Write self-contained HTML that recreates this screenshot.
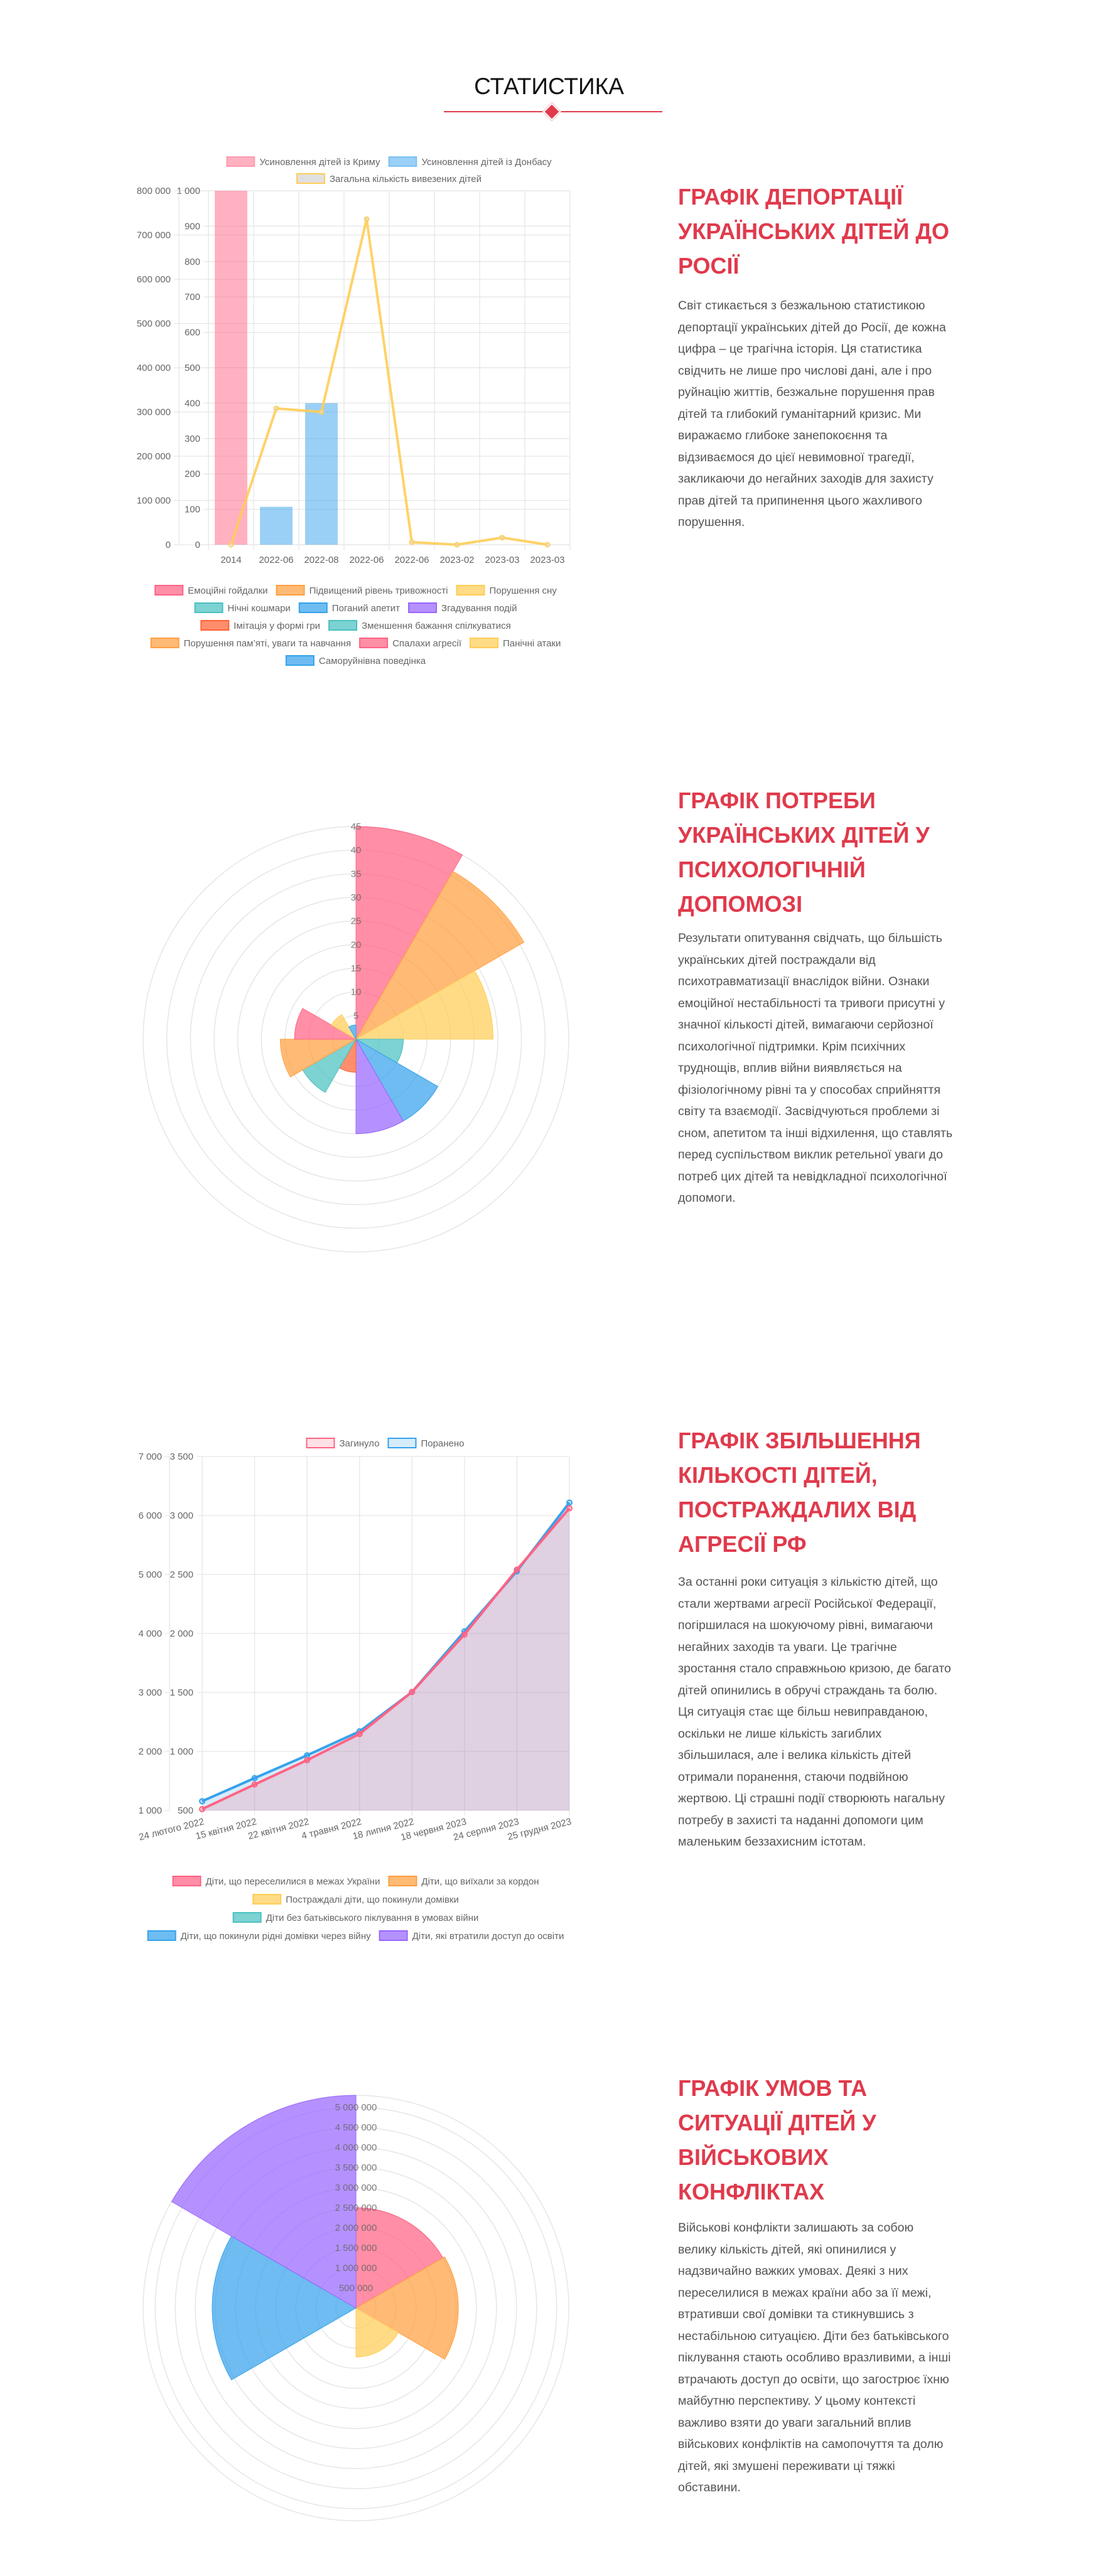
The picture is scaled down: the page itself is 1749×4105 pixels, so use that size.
<!DOCTYPE html>
<html lang="uk"><head><meta charset="utf-8">
<style>
html,body{margin:0;padding:0;background:#fff;}
body{width:1749px;height:4105px;position:relative;overflow:hidden;font-family:"Liberation Sans","DejaVu Sans",sans-serif;}
#charts{position:absolute;left:0;top:0;}
.h{position:absolute;left:0;width:1749px;text-align:center;font-size:37px;color:#111;line-height:40px;}
.t{position:absolute;left:1080px;width:560px;color:#e03a4c;font-weight:bold;font-size:36px;line-height:55px;white-space:nowrap;}
.b{position:absolute;left:1080px;width:560px;color:#555;font-size:19.6px;line-height:34.5px;white-space:nowrap;}
</style></head>
<body>
<div class="h" style="top:118px">СТАТИСТИКА</div>
<div style="position:absolute;left:707px;top:177px;width:348px;height:2px;background:#e03a4c"></div>
<div style="position:absolute;left:869px;top:168px;width:16px;height:16px;background:#e03a4c;transform:rotate(45deg);border:2px solid #fff;box-shadow:0 0 0 1px #f5c5ca"></div>

<div class="t" style="top:286px">ГРАФІК ДЕПОРТАЦІЇ<br>УКРАЇНСЬКИХ ДІТЕЙ ДО<br>РОСІЇ</div>
<div class="b" style="top:470px">Світ стикається з безжальною статистикою<br>депортації українських дітей до Росії, де кожна<br>цифра – це трагічна історія. Ця статистика<br>свідчить не лише про числові дані, але і про<br>руйнацію життів, безжальне порушення прав<br>дітей та глибокий гуманітарний кризис. Ми<br>виражаємо глибоке занепокоєння та<br>відзиваємося до цієї невимовної трагедії,<br>закликаючи до негайних заходів для захисту<br>прав дітей та припинення цього жахливого<br>порушення.</div>

<div class="t" style="top:1248px">ГРАФІК ПОТРЕБИ<br>УКРАЇНСЬКИХ ДІТЕЙ У<br>ПСИХОЛОГІЧНІЙ<br>ДОПОМОЗІ</div>
<div class="b" style="top:1478px">Результати опитування свідчать, що більшість<br>українських дітей постраждали від<br>психотравматизації внаслідок війни. Ознаки<br>емоційної нестабільності та тривоги присутні у<br>значної кількості дітей, вимагаючи серйозної<br>психологічної підтримки. Крім психічних<br>труднощів, вплив війни виявляється на<br>фізіологічному рівні та у способах сприйняття<br>світу та взаємодії. Засвідчуються проблеми зі<br>сном, апетитом та інші відхилення, що ставлять<br>перед суспільством виклик ретельної уваги до<br>потреб цих дітей та невідкладної психологічної<br>допомоги.</div>

<div class="t" style="top:2268px">ГРАФІК ЗБІЛЬШЕННЯ<br>КІЛЬКОСТІ ДІТЕЙ,<br>ПОСТРАЖДАЛИХ ВІД<br>АГРЕСІЇ РФ</div>
<div class="b" style="top:2504px">За останні роки ситуація з кількістю дітей, що<br>стали жертвами агресії Російської Федерації,<br>погіршилася на шокуючому рівні, вимагаючи<br>негайних заходів та уваги. Це трагічне<br>зростання стало справжньою кризою, де багато<br>дітей опинились в обручі страждань та болю.<br>Ця ситуація стає ще більш невиправданою,<br>оскільки не лише кількість загиблих<br>збільшилася, але і велика кількість дітей<br>отримали поранення, стаючи подвійною<br>жертвою. Ці страшні події створюють нагальну<br>потребу в захисті та наданні допомоги цим<br>маленьким беззахисним істотам.</div>

<div class="t" style="top:3300px">ГРАФІК УМОВ ТА<br>СИТУАЦІЇ ДІТЕЙ У<br>ВІЙСЬКОВИХ<br>КОНФЛІКТАХ</div>
<div class="b" style="top:3533px">Військові конфлікти залишають за собою<br>велику кількість дітей, які опинилися у<br>надзвичайно важких умовах. Деякі з них<br>переселилися в межах країни або за її межі,<br>втративши свої домівки та стикнувшись з<br>нестабільною ситуацією. Діти без батьківського<br>піклування стають особливо вразливими, а інші<br>втрачають доступ до освіти, що загострює їхню<br>майбутню перспективу. У цьому контексті<br>важливо взяти до уваги загальний вплив<br>військових конфліктів на самопочуття та долю<br>дітей, які змушені переживати ці тяжкі<br>обставини.</div>

<svg id="charts" width="1749" height="4105" xmlns="http://www.w3.org/2000/svg"></svg>

<script>
// ---- Chart 1 data: deportation ----
const depCategories = ['2014','2022-06','2022-08','2022-06','2022-06','2023-02','2023-03','2023-03'];
const crimeaValues = [1000,0,0,0,0,0,0,0];
const donbasValues = [0,107,400,0,0,0,0,0];
const totalValues = [0,385,375,920,7,0,20,0];
const depInnerTicks = [0,100,200,300,400,500,600,700,800,900,1000];
const depOuterTicks = [0,100000,200000,300000,400000,500000,600000,700000,800000];
const depLegendRow1 = ['Усиновлення дітей із Криму','Усиновлення дітей із Донбасу'];
const depLegendRow2 = ['Загальна кількість вивезених дітей'];

// ---- Chart 2 data: psychological needs ----
const psychCategories = ['Емоційні гойдалки','Підвищений рівень тривожності','Порушення сну','Нічні кошмари','Поганий апетит','Згадування подій','Імітація у формі гри','Зменшення бажання спілкуватися','Порушення пам’яті, уваги та навчання','Спалахи агресії','Панічні атаки','Саморуйнівна поведінка'];
const psychValues = [45,41,29,10,20,20,7,13,16,13,6,3];
const psychTicks = [5,10,15,20,25,30,35,40,45];

// ---- Chart 3 data: casualties ----
const casDates = ['24 лютого 2022','15 квітня 2022','22 квітня 2022','4 травня 2022','18 липня 2022','18 червня 2023','24 серпня 2023','25 грудня 2023'];
const killedValues = [511,720,926,1148,1504,1991,2541,3061];
const woundedValues = [578,774,967,1170,1504,2017,2528,3109];
const casInnerTicks = [500,1000,1500,2000,2500,3000,3500];
const casOuterTicks = [1000,2000,3000,4000,5000,6000,7000];

// ---- Chart 4 data: conditions ----
const condCategories = ['Діти, що переселилися в межах України','Діти, що виїхали за кордон','Постраждалі діти, що покинули домівки','Діти без батьківського піклування в умовах війни','Діти, що покинули рідні домівки через війну','Діти, які втратили доступ до освіти'];
const condValues = [2500000,2550000,1220000,0,3580000,5300000];
const condTicks = [500000,1000000,1500000,2000000,2500000,3000000,3500000,4000000,4500000,5000000];

const NS = 'http://www.w3.org/2000/svg';
const svg = document.getElementById('charts');
function mk(tag, attrs, parent){ const e=document.createElementNS(NS,tag); for(const k in attrs) e.setAttribute(k,attrs[k]); (parent||svg).appendChild(e); return e; }
function fmt(n){ return String(n).replace(/\B(?=(\d{3})+(?!\d))/g,' '); }
const GRID='#e6e6e6', TXT='#666', FONT='"Liberation Sans", sans-serif';

function legendRows(rows, startY, rowGap, cx){
  rows.forEach((row, ri)=>{
    const y = startY + ri*rowGap;
    const items=[];
    row.forEach(it=>{
      const g=mk('g',{});
      
      
      const box=mk('rect',{x:0,y:y-8,width:44,height:15,fill:it.fill,stroke:it.stroke,'stroke-width':2},g);
      const t=mk('text',{x:52,y:y+5,'font-size':15,fill:TXT,'font-family':FONT},g);
      t.textContent=it.label;
      items.push({g,w:52+t.getComputedTextLength()});
    });
    const gap=14;
    const total=items.reduce((s,i)=>s+i.w,0)+gap*(items.length-1);
    let x=cx-total/2;
    items.forEach(i=>{ i.g.setAttribute('transform','translate('+x+',0)'); x+=i.w+gap; });
  });
}

// ================= Chart 1 =================
(function(){
  const X0=332,X1=908,YB=868,YT=304;
  const g=mk('g',{});
  
  
  const innerMax=depInnerTicks[depInnerTicks.length-1], outerMax=depOuterTicks[depOuterTicks.length-1];
  const yIn=v=>YB-(v/innerMax)*(YB-YT);
  const yOut=v=>YB-(v/outerMax)*(YB-YT);
  const n=depCategories.length, cw=(X1-X0)/n;
  const xC=i=>X0+cw*(i+0.5);
  for(let i=0;i<=n;i++){ const l=mk('line',{x1:X0+cw*i,x2:X0+cw*i,y1:YT,y2:YB+8,stroke:GRID,'stroke-width':1.3},g);   }
  depOuterTicks.forEach(v=>{
    const l=mk('line',{x1:277,x2:X1,y1:yOut(v),y2:yOut(v),stroke:GRID,'stroke-width':1.3},g);
     
    const t=mk('text',{x:272,y:yOut(v)+5,'text-anchor':'end','font-size':15,fill:TXT,'font-family':FONT},g);
    t.textContent=fmt(v);
     
  });
  depInnerTicks.forEach(v=>{
    const l=mk('line',{x1:X0-8,x2:X1,y1:yIn(v),y2:yIn(v),stroke:GRID,'stroke-width':1.3},g);
     
    const t=mk('text',{x:X0-13,y:yIn(v)+5,'text-anchor':'end','font-size':15,fill:TXT,'font-family':FONT},g);
    t.textContent=fmt(v);
     
  });
  const ax=mk('line',{x1:285,x2:285,y1:YT,y2:YB,stroke:GRID,'stroke-width':1.3},g);
   
  depCategories.forEach((c,i)=>{
    const t=mk('text',{x:xC(i),y:YB+29,'text-anchor':'middle','font-size':15,fill:TXT,'font-family':FONT},g);
    t.textContent=c;
     
  });
  const bw=cw*0.72;
  crimeaValues.forEach((v,i)=>{ if(!v) return;
    const r=mk('rect',{x:xC(i)-bw/2,y:yIn(v),width:bw,height:YB-yIn(v),fill:'rgba(255,99,132,0.5)'},g);
      });
  donbasValues.forEach((v,i)=>{ if(!v) return;
    const r=mk('rect',{x:xC(i)-bw/2,y:yIn(v),width:bw,height:YB-yIn(v),fill:'rgba(54,162,235,0.5)'},g);
      });
  const pts=totalValues.map((v,i)=>xC(i)+','+yIn(v)).join(' ');
  const pl=mk('polyline',{points:pts,fill:'none',stroke:'rgba(255,205,86,0.9)','stroke-width':4,'stroke-linejoin':'round'},g);
   
  totalValues.forEach((v,i)=>{ const c=mk('circle',{cx:xC(i),cy:yIn(v),r:3.5,fill:'rgba(220,220,220,0.6)',stroke:'rgba(255,205,86,0.9)','stroke-width':2},g);
      });
  legendRows([
    depLegendRow1.map((l,i)=>({label:l,fill:i?'rgba(54,162,235,0.5)':'rgba(255,99,132,0.5)',stroke:i?'rgba(54,162,235,0.5)':'rgba(255,99,132,0.5)'})),
    depLegendRow2.map(l=>({label:l,fill:'#e0e0e0',stroke:'#ffcd56'}))
  ],258,27,620);
})();

// ================= Polar helper =================
function wedge(cx,cy,r,a0,a1){
  const p=a=>[cx+r*Math.cos(a),cy+r*Math.sin(a)];
  const [x0,y0]=p(a0),[x1,y1]=p(a1);
  return 'M'+cx+','+cy+' L'+x0+','+y0+' A'+r+','+r+' 0 0 1 '+x1+','+y1+' Z';
}
const polarColors=['255,99,132','255,159,64','255,205,86','75,192,192','54,162,235','153,102,255','255,99,52','75,192,192','255,159,64','255,99,132','255,205,86','54,162,235'];

// ================= Chart 2 =================
(function(){
  const CX=567,CY=1656,R=339;
  const g=mk('g',{});
  
  
  const maxV=psychTicks[psychTicks.length-1];
  const rs=v=>v/maxV*R;
  psychTicks.forEach(v=>{ const c=mk('circle',{cx:CX,cy:CY,r:rs(v),fill:'none',stroke:GRID,'stroke-width':1.5},g);
      });
  const n=psychValues.length, step=2*Math.PI/n;
  psychValues.forEach((v,i)=>{
    const a0=-Math.PI/2+i*step;
    const p=mk('path',{d:wedge(CX,CY,rs(v),a0,a0+step),fill:'rgba('+polarColors[i]+',0.72)',stroke:'rgb('+polarColors[i]+')','stroke-width':1},g);
     
  });
  psychTicks.forEach(v=>{ const t=mk('text',{x:CX,y:CY-rs(v)+5,'text-anchor':'middle','font-size':15,fill:'rgba(102,102,102,0.85)','font-family':FONT},g);
    t.textContent=v;   });
  const rows=[[0,1,2],[3,4,5],[6,7],[8,9,10],[11]];
  legendRows(rows.map(r=>r.map(i=>({label:psychCategories[i],fill:'rgba('+polarColors[i]+',0.72)',stroke:'rgb('+polarColors[i]+')'}))),941,28,567);
})();

// ================= Chart 3 =================
(function(){
  const X0=322,X1=907,YB=2885,YT=2321;
  const g=mk('g',{});
  
  
  const mn=casInnerTicks[0], mx=casInnerTicks[casInnerTicks.length-1];
  const y=v=>YB-(v-mn)/(mx-mn)*(YB-YT);
  const omn=casOuterTicks[0], omx=casOuterTicks[casOuterTicks.length-1];
  const yo=v=>YB-(v-omn)/(omx-omn)*(YB-YT);
  const n=casDates.length, x=i=>X0+(X1-X0)*i/(n-1);
  casDates.forEach((d,i)=>{ const l=mk('line',{x1:x(i),x2:x(i),y1:YT,y2:YB+8,stroke:GRID,'stroke-width':1.3},g);
      });
  casInnerTicks.forEach(v=>{ const l=mk('line',{x1:X0-8,x2:X1,y1:y(v),y2:y(v),stroke:GRID,'stroke-width':1.3},g);
     
    const t=mk('text',{x:X0-14,y:y(v)+5,'text-anchor':'end','font-size':15,fill:TXT,'font-family':FONT},g);
    t.textContent=fmt(v);   });
  casOuterTicks.forEach(v=>{ const l=mk('line',{x1:262,x2:270,y1:yo(v),y2:yo(v),stroke:GRID,'stroke-width':1.3},g);
     
    const t=mk('text',{x:258,y:yo(v)+5,'text-anchor':'end','font-size':15,fill:TXT,'font-family':FONT},g);
    t.textContent=fmt(v);   });
  const la=mk('line',{x1:270,x2:270,y1:YT,y2:YB,stroke:GRID,'stroke-width':1.3},g);
   
  function series(vals,rgb,name){
    const pts=vals.map((v,i)=>x(i)+','+y(v));
    const area=mk('polygon',{points:X0+','+YB+' '+pts.join(' ')+' '+X1+','+YB,fill:'rgba('+rgb+',0.2)'},g);
     
    return pts;
  }
  const wp=series(woundedValues,'54,162,235','wounded');
  const kp=series(killedValues,'255,99,132','killed');
  const wl=mk('polyline',{points:wp.join(' '),fill:'none',stroke:'#36a2eb','stroke-width':4},g);
   
  woundedValues.forEach((v,i)=>{ const c=mk('circle',{cx:x(i),cy:y(v),r:4,fill:'rgba(54,162,235,0.3)',stroke:'#36a2eb','stroke-width':2},g);
      });
  const kl=mk('polyline',{points:kp.join(' '),fill:'none',stroke:'#ff6384','stroke-width':4},g);
   
  killedValues.forEach((v,i)=>{ const c=mk('circle',{cx:x(i),cy:y(v),r:4,fill:'rgba(255,99,132,0.3)',stroke:'#ff6384','stroke-width':2},g);
      });
  casDates.forEach((d,i)=>{ const t=mk('text',{x:x(i)+4,y:YB+22,'text-anchor':'end','font-size':15,fill:TXT,'font-family':FONT,transform:'rotate(-14 '+(x(i)+4)+' '+(YB+22)+')'},g);
    t.textContent=d;   });
  legendRows([[{label:'Загинуло',fill:'rgba(255,99,132,0.2)',stroke:'#ff6384'},{label:'Поранено',fill:'rgba(54,162,235,0.2)',stroke:'#36a2eb'}]],2300,30,614);
})();

// ================= Chart 4 =================
(function(){
  const CX=567,CY=3678,R=339;
  const g=mk('g',{});
  
  
  const maxV=Math.max(...condValues, condTicks[condTicks.length-1]);
  const rs=v=>v/maxV*R;
  condTicks.forEach(v=>{ const c=mk('circle',{cx:CX,cy:CY,r:rs(v),fill:'none',stroke:GRID,'stroke-width':1.5},g);
      });
  const oc=mk('circle',{cx:CX,cy:CY,r:R,fill:'none',stroke:GRID,'stroke-width':1.5},g);
   
  const n=condValues.length, step=2*Math.PI/n;
  condValues.forEach((v,i)=>{ if(!v) return;
    const a0=-Math.PI/2+i*step;
    const p=mk('path',{d:wedge(CX,CY,rs(v),a0,a0+step),fill:'rgba('+polarColors[i]+',0.72)',stroke:'rgb('+polarColors[i]+')','stroke-width':1},g);
     
  });
  condTicks.forEach(v=>{ const t=mk('text',{x:CX,y:CY-rs(v)+5,'text-anchor':'middle','font-size':15,fill:'rgba(102,102,102,0.85)','font-family':FONT},g);
    t.textContent=fmt(v);   });
  const rows=[[0,1],[2],[3],[4,5]];
  legendRows(rows.map(r=>r.map(i=>({label:condCategories[i],fill:'rgba('+polarColors[i]+',0.72)',stroke:'rgb('+polarColors[i]+')'}))),2998,29,567);
})();
</script>
</body></html>
